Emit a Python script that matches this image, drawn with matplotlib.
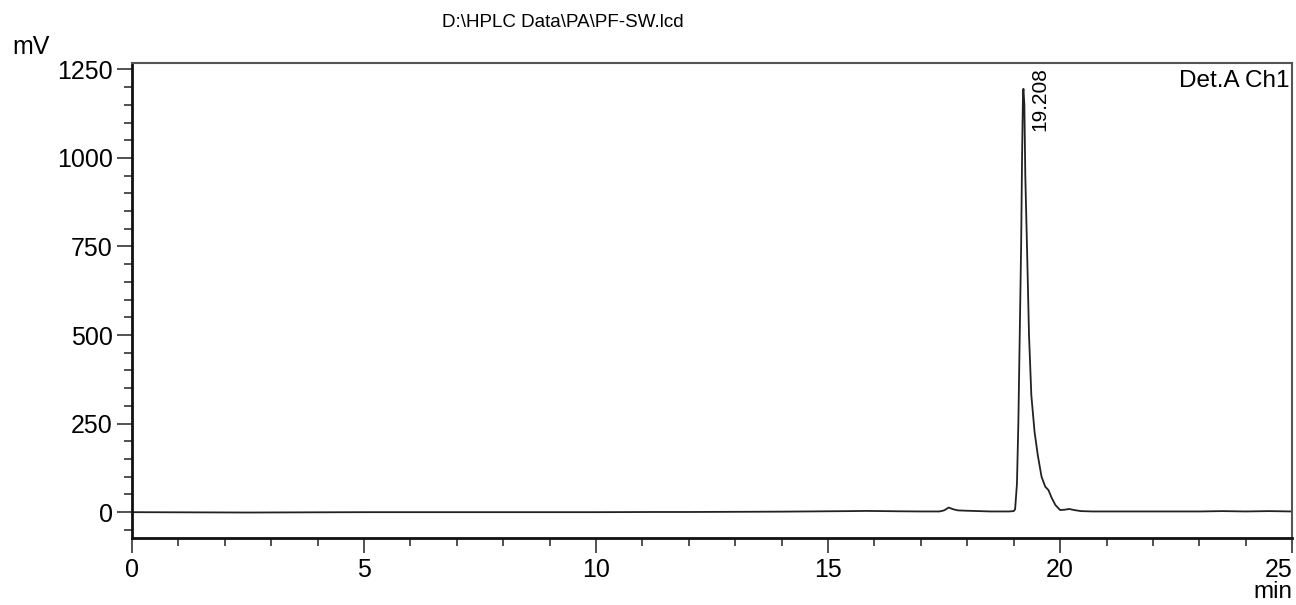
import matplotlib
matplotlib.use("Agg")
import matplotlib.pyplot as plt
from matplotlib.ticker import MultipleLocator

plt.rcParams['font.family'] = ['Liberation Sans', 'DejaVu Sans']
plt.rcParams['font.size'] = 14

# chromatogram (min, mV)
time_min = [0, 2.5, 5, 7.5, 10, 11.3, 12, 13, 14, 14.5, 15, 15.5, 15.8, 16.2,
            16.5, 17.0, 17.4, 17.5, 17.6, 17.7, 17.8, 18.0, 18.5, 18.9, 19.0,
            19.03, 19.07, 19.10, 19.13, 19.16, 19.18, 19.20, 19.21, 19.23,
            19.25, 19.29, 19.33, 19.38, 19.45, 19.52, 19.6, 19.68, 19.75,
            19.82, 19.9, 20.0, 20.1, 20.2, 20.3, 20.45, 20.7, 21, 22, 23,
            23.5, 24, 24.5, 25]
signal_mv = [0, -1, 0, 0, 0, 0.5, 0.5, 1, 1.5, 2, 2.5, 3, 3.5, 3, 2.5, 2, 2,
             5, 13, 8, 5, 4, 2, 2, 3, 8, 80, 250, 500, 750, 1000, 1180, 1195,
             1150, 950, 730, 500, 330, 226, 160, 100, 72, 62, 40, 20, 6, 7, 9,
             6, 3, 2, 2, 2, 2, 3, 2, 3, 2]

x_ticks = [0, 5, 10, 15, 20, 25]
peak_rt = 19.208
peak_label = "19.208"

fig = plt.figure(figsize=(12.96, 6.05), dpi=100)
ax = fig.add_axes([0.1019, 0.1107, 0.8951, 0.7846])

ax.plot(time_min, signal_mv, color='#222222', lw=1.3)

ax.set_xlim(0, 25)
ax.set_ylim(-73, 1267)
ax.set_xticks(x_ticks)
ax.set_xticklabels([str(t) for t in x_ticks])
ax.xaxis.set_minor_locator(MultipleLocator(1))
ax.yaxis.set_major_locator(MultipleLocator(250))
ax.yaxis.set_minor_locator(MultipleLocator(50))
ax.tick_params(which='major', length=11, width=1.2, color='#333333', labelsize=18)
ax.tick_params(which='minor', length=6, width=1.2, color='#333333')
ax.tick_params(axis='y', pad=3)
ax.get_xticklabels()[-1].set_horizontalalignment('right')

for s in ['left', 'bottom']:
    ax.spines[s].set_linewidth(2)
    ax.spines[s].set_color('#111111')
for s in ['top', 'right']:
    ax.spines[s].set_linewidth(1.5)
    ax.spines[s].set_color('#555555')

ax.text(19.57, 1075, peak_label, rotation=90, ha='center', va='bottom', fontsize=15)
ax.text(0.998, 0.985, "Det.A Ch1", transform=ax.transAxes, ha='right', va='top', fontsize=17.5)

fig.text(0.434, 0.962, r"D:\HPLC Data\PA\PF-SW.lcd", ha='center', va='center', fontsize=13.5)
fig.text(0.024, 0.922, "mV", ha='center', va='center', fontsize=18)
fig.text(0.9969, 0.021, "min", ha='right', va='center', fontsize=17.5)

fig.savefig("out.png", dpi=100)
